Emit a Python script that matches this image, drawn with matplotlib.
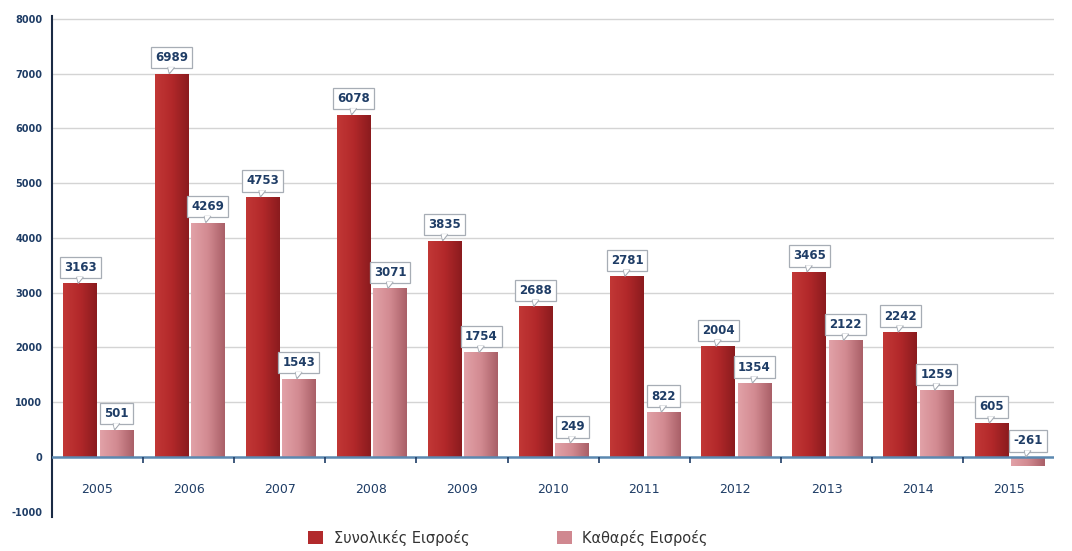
import numpy as np
import matplotlib.pyplot as plt
from matplotlib.colors import LinearSegmentedColormap
from matplotlib.patches import Patch, Polygon
from matplotlib import transforms

# --- data ---
years = ['2005', '2006', '2007', '2008', '2009', '2010', '2011', '2012', '2013', '2014', '2015']
total_labels = [3163, 6989, 4753, 6078, 3835, 2688, 2781, 2004, 3465, 2242, 605]
net_labels = [501, 4269, 1543, 3071, 1754, 249, 822, 1354, 2122, 1259, -261]
# bar heights as drawn in the picture (they do not always match the printed labels)
total_heights = [3170, 7000, 4750, 6250, 3950, 2750, 3300, 2020, 3380, 2280, 620]
net_heights = [495, 4280, 1430, 3080, 1910, 255, 820, 1350, 2130, 1220, -170]
series_names = ['Συνολικές Εισροές', 'Καθαρές Εισροές']
yticks = [-1000, 0, 1000, 2000, 3000, 4000, 5000, 6000, 7000, 8000]

NAVY = '#1f3d66'
plt.rcParams['font.family'] = ['DejaVu Sans']

fig = plt.figure(figsize=(10.72, 5.51), dpi=100)
ax = fig.add_axes([0.0485, 0.062, 0.935, 0.909])

x = np.arange(len(years))
w = 0.37
cmap_total = LinearSegmentedColormap.from_list('tot', ['#c23836', '#b2282a', '#8a1b1e'])
cmap_net = LinearSegmentedColormap.from_list('net', ['#e2a2a8', '#d28a91', '#a95f67'])
grad = np.linspace(0, 1, 256).reshape(1, -1)

def gradient_bars(xpos, heights, cmap):
    bars = ax.bar(xpos, heights, width=w, color='none', edgecolor='none', zorder=3)
    for b in bars:
        x0, y0 = b.get_x(), b.get_y()
        x1, y1 = x0 + b.get_width(), y0 + b.get_height()
        im = ax.imshow(grad, cmap=cmap, aspect='auto', extent=(x0, x1, min(y0, y1), max(y0, y1)),
                       zorder=3, interpolation='bilinear')
        im.set_clip_path(b)
    return bars

gradient_bars(x - 0.19, total_heights, cmap_total)
gradient_bars(x + 0.21, net_heights, cmap_net)

# callout labels
def callout(xp, yp, txt):
    anchor = max(yp, 0)
    ax.annotate(txt, (xp, anchor), xytext=(0, 11.5), textcoords='offset points',
                ha='center', va='center', fontsize=8.5, fontweight='bold', color=NAVY,
                bbox=dict(boxstyle='square,pad=0.35', fc='white', ec='#a7adb5', lw=0.9),
                zorder=6)
    tr = fig.dpi_scale_trans + transforms.ScaledTranslation(xp, anchor, ax.transData)
    # pointer below the box (inches relative to bar top)
    tri = Polygon([(-0.035, 0.062), (0.03, 0.062), (-0.02, 0.0)], closed=True,
                  fc='white', ec='#a7adb5', lw=0.9, transform=tr, zorder=7)
    ax.add_patch(tri)
    cover = Polygon([(-0.032, 0.066), (0.027, 0.066), (-0.02, 0.012)], closed=True,
                    fc='white', ec='none', transform=tr, zorder=8)
    ax.add_patch(cover)

for i in range(len(years)):
    callout(x[i] - 0.19, total_heights[i], str(total_labels[i]))
    callout(x[i] + 0.21, net_heights[i], str(net_labels[i]))

# grid and axes
ax.set_xlim(-0.5, len(years) - 0.5)
ax.set_ylim(-1095, 8055)
for v in yticks:
    if v > 0:
        ax.axhline(v, color='#d4d4d4', lw=1, zorder=1)
ax.axhline(0, color='#5b88b0', lw=1.8, zorder=4)
ax.vlines(x[:-1] + 0.5, -115, 0, color=NAVY, lw=1.2, zorder=4)

for i, yr in enumerate(years):
    ax.text(x[i], -600, yr, ha='center', va='center', fontsize=9, color=NAVY)

ax.set_yticks(yticks)
ax.set_yticklabels([str(v) for v in yticks], fontsize=7, fontweight='bold', color=NAVY)
ax.tick_params(axis='y', length=0, pad=7)
ax.set_xticks([])
for s in ['top', 'right', 'bottom']:
    ax.spines[s].set_visible(False)
ax.spines['left'].set_color('#1a2a44')
ax.spines['left'].set_linewidth(1.5)

handles = [Patch(fc='#b22a2c', ec='none'), Patch(fc='#d08890', ec='none')]
fig.legend(handles, series_names, loc='lower center', bbox_to_anchor=(0.474, -0.014),
           ncol=2, frameon=False, fontsize=10.5, handlelength=1.0, handleheight=1.0,
           columnspacing=6.0, handletextpad=0.75, labelcolor='#333333')

fig.savefig('out.png', dpi=100)
